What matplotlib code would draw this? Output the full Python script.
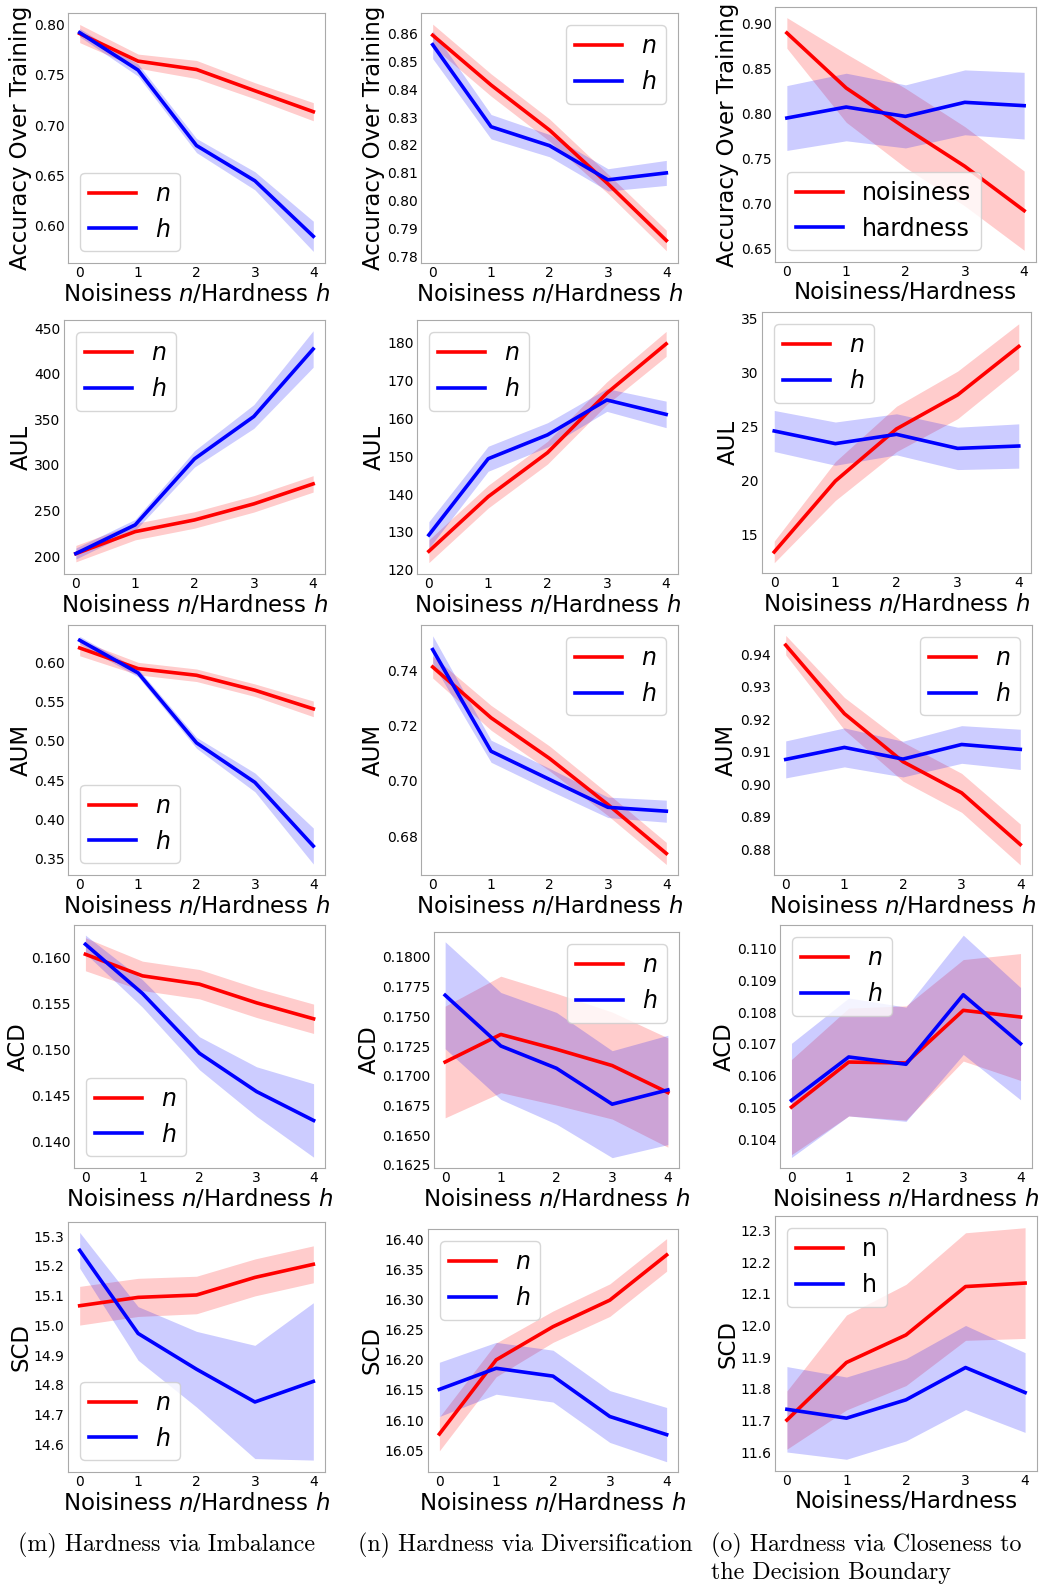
import matplotlib
matplotlib.use("Agg")
import matplotlib.pyplot as plt
from matplotlib.ticker import MultipleLocator, FormatStrFormatter
import numpy as np

steps = [0, 1, 2, 3, 4]

# mean and half-width of the band, per metric, hardness type (imb / div / clo) and curve (n / h)
acc_imb_n = [0.7908, 0.7634, 0.7551, 0.7340, 0.7132]
acc_imb_n_err = [0.009, 0.007, 0.009, 0.008, 0.009]
acc_imb_h = [0.7917, 0.7545, 0.6796, 0.6446, 0.5895]
acc_imb_h_err = [0.004, 0.006, 0.007, 0.009, 0.015]
acc_div_n = [0.8594, 0.8415, 0.8253, 0.8060, 0.7856]
acc_div_n_err = [0.004, 0.004, 0.004, 0.0035, 0.0037]
acc_div_h = [0.8560, 0.8265, 0.8197, 0.8074, 0.8099]
acc_div_h_err = [0.005, 0.0044, 0.004, 0.004, 0.0045]
acc_clo_n = [0.8890, 0.8279, 0.7835, 0.7410, 0.6918]
acc_clo_n_err = [0.017, 0.038, 0.044, 0.044, 0.044]
acc_clo_h = [0.7946, 0.8068, 0.7964, 0.8120, 0.8083]
acc_clo_h_err = [0.036, 0.0375, 0.035, 0.036, 0.037]

aul_imb_n = [202.9, 227.0, 239.8, 257.4, 279.3]
aul_imb_n_err = [9, 9, 9, 9, 9]
aul_imb_h = [203.0, 234.4, 306.7, 353.1, 427.0]
aul_imb_h_err = [6, 6, 9, 13, 20]
aul_div_n = [124.9, 139.3, 150.9, 166.6, 179.6]
aul_div_n_err = [3, 3, 3, 3, 3.3]
aul_div_h = [129.2, 149.3, 155.6, 164.8, 161.0]
aul_div_h_err = [3.5, 3.3, 3.2, 3, 3.5]
aul_clo_n = [13.36, 19.92, 24.74, 27.89, 32.37]
aul_clo_n_err = [1.0, 1.8, 2.1, 2.2, 2.1]
aul_clo_h = [24.55, 23.38, 24.24, 22.94, 23.16]
aul_clo_h_err = [1.9, 2.0, 1.9, 1.96, 2.05]

aum_imb_n = [0.6187, 0.5923, 0.5838, 0.5647, 0.5409]
aum_imb_n_err = [0.01, 0.008, 0.008, 0.008, 0.01]
aum_imb_h = [0.6285, 0.5868, 0.4975, 0.4470, 0.3657]
aum_imb_h_err = [0.005, 0.005, 0.007, 0.012, 0.023]
aum_div_n = [0.7412, 0.7228, 0.7081, 0.6914, 0.6737]
aum_div_n_err = [0.004, 0.0045, 0.0045, 0.004, 0.004]
aum_div_h = [0.7475, 0.7107, 0.7005, 0.6904, 0.6890]
aum_div_h_err = [0.005, 0.004, 0.004, 0.0037, 0.004]
aum_clo_n = [0.9428, 0.9217, 0.9069, 0.8973, 0.8814]
aum_clo_n_err = [0.003, 0.005, 0.006, 0.006, 0.0063]
aum_clo_h = [0.9076, 0.9113, 0.9077, 0.9122, 0.9107]
aum_clo_h_err = [0.0057, 0.006, 0.0055, 0.0058, 0.0062]

acd_imb_n = [0.16036, 0.15801, 0.15710, 0.15507, 0.15333]
acd_imb_n_err = [0.0018, 0.0016, 0.0016, 0.0016, 0.0016]
acd_imb_h = [0.16145, 0.15609, 0.14957, 0.14540, 0.14225]
acd_imb_h_err = [0.001, 0.0015, 0.0018, 0.0027, 0.004]
acd_div_n = [0.17116, 0.17348, 0.17223, 0.17086, 0.16859]
acd_div_n_err = [0.0047, 0.0049, 0.0047, 0.0045, 0.0046]
acd_div_h = [0.17678, 0.17251, 0.17063, 0.16761, 0.16881]
acd_div_h_err = [0.0045, 0.0045, 0.0047, 0.0045, 0.0046]
acd_clo_n = [0.10501, 0.10643, 0.10640, 0.10806, 0.10785]
acd_clo_n_err = [0.0015, 0.0017, 0.0018, 0.0016, 0.002]
acd_clo_h = [0.10522, 0.10659, 0.10636, 0.10855, 0.10701]
acd_clo_h_err = [0.0018, 0.00186, 0.0018, 0.00188, 0.00177]

scd_imb_n = [15.066, 15.094, 15.102, 15.161, 15.205]
scd_imb_n_err = [0.065, 0.064, 0.063, 0.062, 0.062]
scd_imb_h = [15.252, 14.973, 14.853, 14.743, 14.812]
scd_imb_h_err = [0.06, 0.09, 0.127, 0.19, 0.264]
scd_div_n = [16.077, 16.200, 16.255, 16.299, 16.374]
scd_div_n_err = [0.028, 0.028, 0.026, 0.027, 0.027]
scd_div_h = [16.151, 16.186, 16.173, 16.106, 16.076]
scd_div_h_err = [0.045, 0.043, 0.043, 0.043, 0.045]
scd_clo_n = [11.701, 11.883, 11.970, 12.123, 12.134]
scd_clo_n_err = [0.092, 0.15, 0.16, 0.17, 0.175]
scd_clo_h = [11.735, 11.707, 11.765, 11.867, 11.788]
scd_clo_h_err = [0.135, 0.13, 0.13, 0.133, 0.126]

metric_names = ["Accuracy Over Training", "AUL", "AUM", "ACD", "SCD"]
captions = ["(m) Hardness via Imbalance",
            "(n) Hardness via Diversification",
            "(o) Hardness via Closeness to\nthe Decision Boundary"]

W, H = 1040, 1587
fig = plt.figure(figsize=(W / 100, H / 100), dpi=100)


def add_panel(left, right, top, bottom):
    return fig.add_axes([left / W, 1 - bottom / H, (right - left) / W, (bottom - top) / H])


# (row, col): series, y-limits, tick step, tick format, legend loc, pixel box
panels = [
    (acc_imb_n, acc_imb_n_err, acc_imb_h, acc_imb_h_err, (0.5630, 0.8112), 0.05, "%.2f", "lower left", (68, 325, 13, 263)),
    (acc_div_n, acc_div_n_err, acc_div_h, acc_div_h_err, (0.7775, 0.8674), 0.01, "%.2f", "upper right", (421, 678, 13, 263)),
    (acc_clo_n, acc_clo_n_err, acc_clo_h, acc_clo_h_err, (0.6348, 0.9178), 0.05, "%.2f", "lower left", (775, 1036, 7, 262)),
    (aul_imb_n, aul_imb_n_err, aul_imb_h, aul_imb_h_err, (180.6, 458.8), 50, "%d", "upper left", (64, 325, 320, 574)),
    (aul_div_n, aul_div_n_err, aul_div_h, aul_div_h_err, (118.9, 185.9), 10, "%d", "upper left", (417, 678, 320, 574)),
    (aul_clo_n, aul_clo_n_err, aul_clo_h, aul_clo_h_err, (11.41, 35.56), 5, "%d", "upper left", (762, 1031, 312, 573)),
    (aum_imb_n, aum_imb_n_err, aum_imb_h, aum_imb_h_err, (0.3287, 0.648), 0.05, "%.2f", "lower left", (68, 325, 625, 875)),
    (aum_div_n, aum_div_n_err, aum_div_h, aum_div_h_err, (0.6659, 0.7564), 0.02, "%.2f", "upper right", (421, 678, 625, 875)),
    (aum_clo_n, aum_clo_n_err, aum_clo_h, aum_clo_h_err, (0.872, 0.949), 0.01, "%.2f", "upper right", (774, 1032, 625, 875)),
    (acd_imb_n, acd_imb_n_err, acd_imb_h, acd_imb_h_err, (0.13707, 0.16355), 0.005, "%.3f", "lower left", (74, 325, 925, 1168)),
    (acd_div_n, acd_div_n_err, acd_div_h, acd_div_h_err, (0.16224, 0.1821), 0.0025, "%.4f", "upper right", (434, 679, 932, 1168)),
    (acd_clo_n, acd_clo_n_err, acd_clo_h, acd_clo_h_err, (0.10309, 0.11075), 0.001, "%.3f", "upper left", (780, 1032, 925, 1168)),
    (scd_imb_n, scd_imb_n_err, scd_imb_h, scd_imb_h_err, (14.508, 15.347), 0.1, "%.1f", "lower left", (68, 325, 1222, 1472)),
    (scd_div_n, scd_div_n_err, scd_div_h, scd_div_h_err, (16.014, 16.417), 0.05, "%.2f", "upper left", (428, 678, 1229, 1472)),
    (scd_clo_n, scd_clo_n_err, scd_clo_h, scd_clo_h_err, (11.540, 12.346), 0.1, "%.1f", "upper left", (775, 1037, 1216, 1471)),
]

x = np.array(steps)
for i, (n, n_err, h, h_err, ylim, step, fmt, loc, box) in enumerate(panels):
    row, col = divmod(i, 3)
    ax = add_panel(*box)
    n, n_err, h, h_err = map(np.array, (n, n_err, h, h_err))

    # label text differs for the plain-text panels in the last column
    if col == 2 and row == 0:
        labels = ["noisiness", "hardness"]
        xlabel = "Noisiness/Hardness"
    elif col == 2 and row == 4:
        labels = ["n", "h"]
        xlabel = "Noisiness/Hardness"
    else:
        labels = ["$n$", "$h$"]
        xlabel = "Noisiness $n$/Hardness $h$"

    ax.plot(x, n, color="red", lw=2.6, label=labels[0])
    ax.fill_between(x, n - n_err, n + n_err, color="red", alpha=0.2, lw=0)
    ax.plot(x, h, color="blue", lw=2.6, label=labels[1])
    ax.fill_between(x, h - h_err, h + h_err, color="blue", alpha=0.2, lw=0)

    ax.set_ylim(*ylim)
    ax.set_xticks(steps)
    ax.yaxis.set_major_locator(MultipleLocator(step))
    ax.yaxis.set_major_formatter(FormatStrFormatter(fmt))
    ax.tick_params(length=0, pad=2.5, labelsize=10)
    for sp in ax.spines.values():
        sp.set_color("#aaaaaa")

    ax.set_ylabel(metric_names[row], fontsize=16.5, labelpad=1)
    ax.set_xlabel(xlabel, fontsize=16.5, labelpad=1)
    ax.legend(loc=loc, fontsize=17)

caption_x = [18, 358, 711]
for cx, text in zip(caption_x, captions):
    fig.text(cx / W, 1 - 1533 / H, text, family="cmr10", fontsize=17.3,
             ha="left", va="top", linespacing=1.2)

fig.savefig("out.png", dpi=100)
